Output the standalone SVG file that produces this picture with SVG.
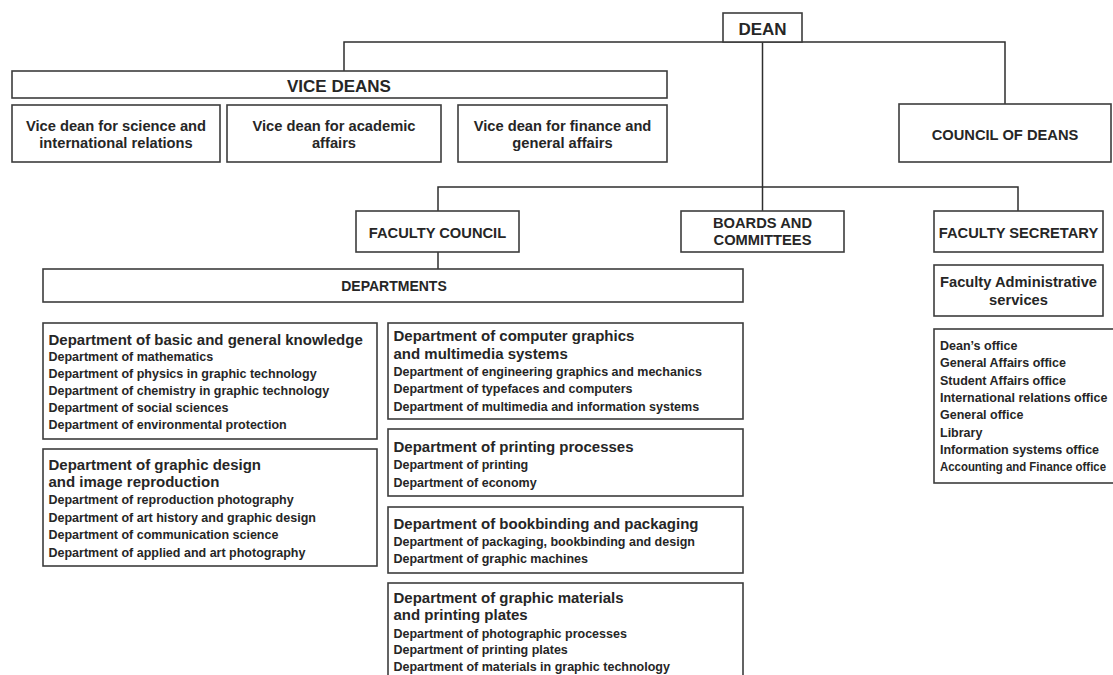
<svg xmlns="http://www.w3.org/2000/svg" width="1113" height="675" viewBox="0 0 1113 675">
<style>
.box{fill:#fff;stroke:#3d3d3d;stroke-width:1.6}
.con{fill:none;stroke:#2e2e2e;stroke-width:1.5}
text{font-family:"Liberation Sans",Arial,sans-serif;font-weight:bold;fill:#262626}
.t17{font-size:17px;text-anchor:middle}
.t15c{font-size:14.7px;text-anchor:middle}
.t14c{font-size:14px;text-anchor:middle}
.h{font-size:15px}
.s{font-size:12.5px}
</style>
<rect width="1113" height="675" fill="#fff"/>
<g id="connectors">
<path class="con" d="M344,71 V42 H1005 V104"/>
<path class="con" d="M762.5,42 V211"/>
<path class="con" d="M438,211 V187 H1018 V211"/>
<path class="con" d="M438,252 V269"/>
</g>
<g id="dean"><rect class="box" x="723" y="13" width="79" height="29"/><text class="t17" x="762.5" y="34.5">DEAN</text></g>
<g id="vice-deans"><rect class="box" x="12" y="71" width="655" height="27"/><text class="t17" x="339" y="91.5">VICE DEANS</text></g>
<g id="vd-science"><rect class="box" x="12" y="105" width="208" height="57"/><text class="t15c" x="116" y="130.5">Vice dean for science and</text><text class="t15c" x="116" y="148">international relations</text></g>
<g id="vd-academic"><rect class="box" x="227" y="105" width="214" height="57"/><text class="t15c" x="334" y="130.5">Vice dean for academic</text><text class="t15c" x="334" y="148">affairs</text></g>
<g id="vd-finance"><rect class="box" x="458" y="105" width="209" height="57"/><text class="t15c" x="562.5" y="130.5">Vice dean for finance and</text><text class="t15c" x="562.5" y="148">general affairs</text></g>
<g id="council-of-deans"><rect class="box" x="899" y="104" width="212" height="58"/><text class="t15c" x="1005" y="139.5">COUNCIL OF DEANS</text></g>
<g id="faculty-council"><rect class="box" x="356" y="211" width="163" height="41"/><text class="t15c" x="437.5" y="238">FACULTY COUNCIL</text></g>
<g id="boards"><rect class="box" x="681" y="211" width="163" height="41"/><text class="t15c" x="762.5" y="228">BOARDS AND</text><text class="t15c" x="762.5" y="245">COMMITTEES</text></g>
<g id="faculty-secretary"><rect class="box" x="934" y="211" width="169" height="41"/><text class="t15c" x="1018.5" y="238">FACULTY SECRETARY</text></g>
<g id="departments"><rect class="box" x="43" y="269" width="700" height="33"/><text class="t14c" x="394" y="291">DEPARTMENTS</text></g>
<g id="admin-services"><rect class="box" x="934" y="265" width="169" height="51"/><text class="t15c" x="1018.5" y="286.5">Faculty Administrative</text><text class="t15c" x="1018.5" y="304.5">services</text></g>
<g id="offices"><rect class="box" x="934" y="329" width="190" height="154"/>
<text class="s" x="940" y="350">Dean’s office</text>
<text class="s" x="940" y="367.3">General Affairs office</text>
<text class="s" x="940" y="384.6">Student Affairs office</text>
<text class="s" x="940" y="402">International relations office</text>
<text class="s" x="940" y="419.3">General office</text>
<text class="s" x="940" y="436.6">Library</text>
<text class="s" x="940" y="454">Information systems office</text>
<text class="s" x="940" y="471.3" textLength="166" lengthAdjust="spacingAndGlyphs">Accounting and Finance office</text>
</g>
<g id="dept-basic"><rect class="box" x="43" y="323" width="334" height="116"/>
<text class="h" x="48.5" y="345">Department of basic and general knowledge</text>
<text class="s" x="48.5" y="361">Department of mathematics</text>
<text class="s" x="48.5" y="378">Department of physics in graphic technology</text>
<text class="s" x="48.5" y="395">Department of chemistry in graphic technology</text>
<text class="s" x="48.5" y="412">Department of social sciences</text>
<text class="s" x="48.5" y="429">Department of environmental protection</text>
</g>
<g id="dept-graphic-design"><rect class="box" x="43" y="449" width="334" height="117"/>
<text class="h" x="48.5" y="469.5">Department of graphic design</text>
<text class="h" x="48.5" y="487">and image reproduction</text>
<text class="s" x="48.5" y="504">Department of reproduction photography</text>
<text class="s" x="48.5" y="521.5">Department of art history and graphic design</text>
<text class="s" x="48.5" y="539">Department of communication science</text>
<text class="s" x="48.5" y="556.5">Department of applied and art photography</text>
</g>
<g id="dept-computer-graphics"><rect class="box" x="388" y="323" width="355" height="96"/>
<text class="h" x="393.5" y="341">Department of computer graphics</text>
<text class="h" x="393.5" y="358.5">and multimedia  systems</text>
<text class="s" x="393.5" y="375.7">Department of engineering graphics and mechanics</text>
<text class="s" x="393.5" y="393.2">Department of typefaces and computers</text>
<text class="s" x="393.5" y="410.7">Department of multimedia and information systems</text>
</g>
<g id="dept-printing"><rect class="box" x="388" y="429" width="355" height="67"/>
<text class="h" x="393.5" y="451.7">Department of printing processes</text>
<text class="s" x="393.5" y="469.3">Department of printing</text>
<text class="s" x="393.5" y="486.7">Department of economy</text>
</g>
<g id="dept-bookbinding"><rect class="box" x="388" y="507" width="355" height="66"/>
<text class="h" x="393.5" y="529.3">Department of bookbinding and packaging</text>
<text class="s" x="393.5" y="546.3">Department of packaging, bookbinding and design</text>
<text class="s" x="393.5" y="563.3">Department of graphic machines</text>
</g>
<g id="dept-materials"><rect class="box" x="388" y="583" width="355" height="100"/>
<text class="h" x="393.5" y="603.3">Department of graphic materials</text>
<text class="h" x="393.5" y="620.3">and printing plates</text>
<text class="s" x="393.5" y="637.5">Department of photographic processes</text>
<text class="s" x="393.5" y="654">Department of printing plates</text>
<text class="s" x="393.5" y="670.5">Department of materials in graphic technology</text>
</g>
</svg>
